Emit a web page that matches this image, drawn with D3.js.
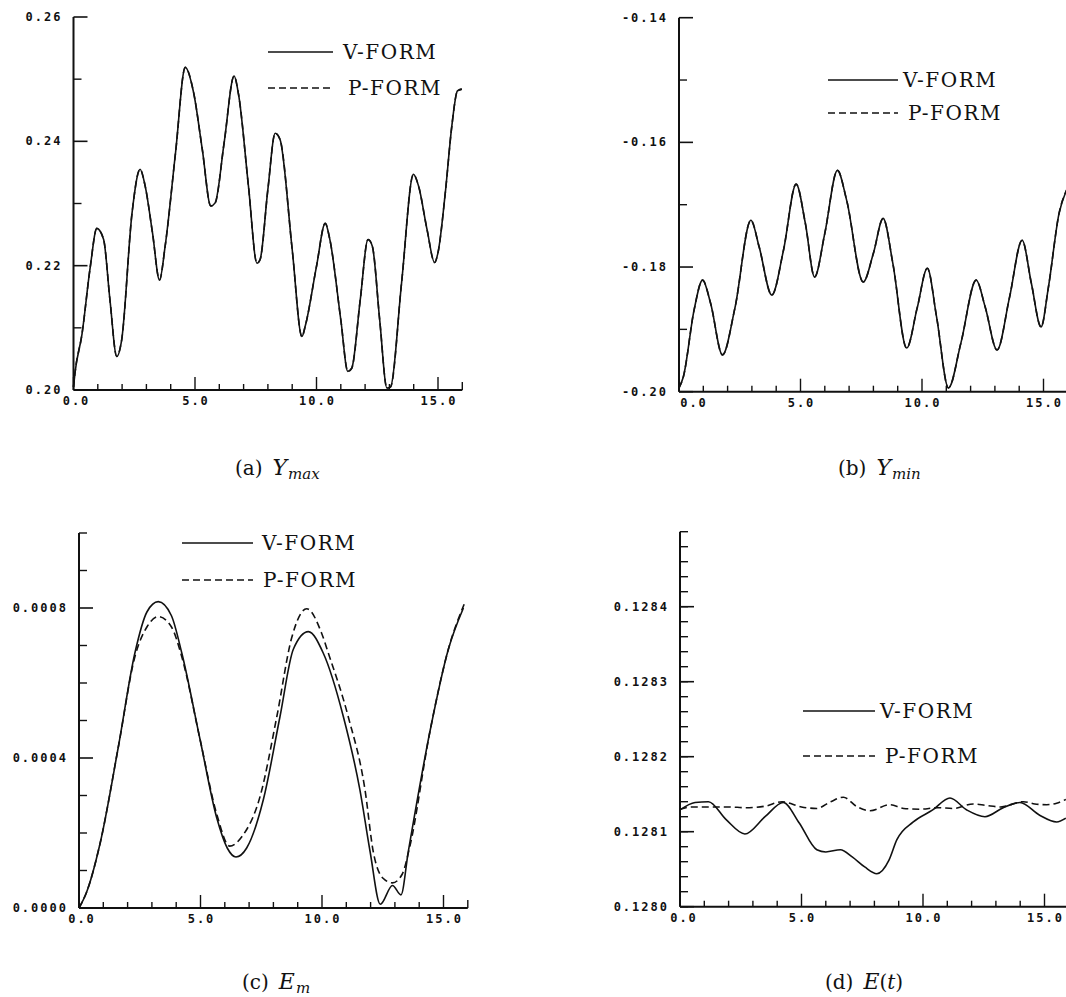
<!DOCTYPE html>
<html>
<head>
<meta charset="utf-8">
<script src="https://cdn.jsdelivr.net/npm/d3@7"></script>
<style>
  body { margin: 0; background: #fff; }
  .tick-label { font-family: "DejaVu Sans Mono", monospace; font-weight: bold; font-size: 12px; letter-spacing: 2px; fill: #111; }
  .legend-label { font-family: "DejaVu Serif"; font-size: 20px; letter-spacing: 1.5px; fill: #111; }
  .caption { font-family: "DejaVu Serif", serif; font-size: 20px; fill: #111; }
</style>
</head>
<body>
<div id="chart"></div>
<script>
// (a) Ymax - both forms lie on top of each other
const ymaxT = [0, 0.06, 0.35, 0.69, 0.96, 1.24, 1.5, 1.78, 1.98, 2.41, 2.74, 2.95, 3.25, 3.54, 3.77, 4.2, 4.6, 4.94,
  5.3, 5.65, 5.83, 6.2, 6.61, 6.79, 7.2, 7.55, 7.68, 8.0, 8.3, 8.5, 9.0, 9.4, 9.55, 10.0, 10.36, 10.55, 11.0, 11.29,
  11.45, 11.8, 12.12, 12.3, 12.6, 12.9, 13.05, 13.5, 13.99, 14.2, 14.55, 14.86, 15.0, 15.3, 15.57, 15.8, 15.98];
const ymaxV = [0.2005, 0.2027, 0.209, 0.2198, 0.226, 0.2242, 0.2145, 0.2054, 0.208, 0.2285, 0.2355, 0.2328, 0.2253,
  0.2177, 0.2231, 0.2382, 0.2519, 0.2479, 0.2387, 0.2296, 0.2301, 0.2398, 0.2505, 0.2476, 0.2328, 0.2204, 0.221,
  0.2323, 0.2413, 0.2403, 0.2226, 0.2086, 0.2105, 0.2199, 0.2268, 0.2242, 0.2113, 0.203, 0.2035, 0.2145, 0.2242,
  0.2231, 0.2113, 0.2003, 0.2005, 0.2172, 0.2347, 0.2328, 0.2258, 0.2205, 0.2221, 0.2317, 0.2425, 0.2481, 0.2484];
const ymaxP = ymaxV;

// (b) Ymin
const yminT = [0, 0.18, 0.62, 0.97, 1.3, 1.79, 2.3, 2.96, 3.3, 3.82, 4.3, 4.82, 5.2, 5.58, 6.0, 6.52, 6.9, 7.58, 8.0,
  8.4, 8.8, 9.37, 9.8, 10.22, 10.6, 11.09, 11.6, 12.23, 12.6, 13.09, 13.6, 14.12, 14.5, 14.9, 15.2, 15.64, 15.98];
const yminV = [-0.1994, -0.1976, -0.1869, -0.1821, -0.1858, -0.1941, -0.1866, -0.1725, -0.1768, -0.1845, -0.1773,
  -0.1667, -0.173, -0.1816, -0.1746, -0.1645, -0.1693, -0.1824, -0.1778, -0.1722, -0.1794, -0.193, -0.1866, -0.1802,
  -0.188, -0.1994, -0.1922, -0.1821, -0.1864, -0.1933, -0.1849, -0.1757, -0.1826, -0.1896, -0.1833, -0.1714, -0.1674];
const yminP = yminV;

// (c) Em
const emTV = [0, 0.3, 0.86, 1.62, 2.3, 2.8, 3.26, 3.8, 4.23, 4.98, 5.67, 6.1, 6.46, 6.9, 7.59, 8.27, 8.82, 9.44,
  10.05, 10.88, 11.56, 11.98, 12.4, 12.9, 13.25, 13.55, 14.44, 15.2, 15.82];
const emV = [0, 0.00004, 0.00017, 0.00043, 0.00068, 0.00079, 0.000817, 0.00078, 0.00068, 0.00045, 0.00024, 0.00016,
  0.000136, 0.00016, 0.00029, 0.00051, 0.00069, 0.000737, 0.00068, 0.00051, 0.000315, 0.00015, 0.00001, 0.00006,
  0.000035, 0.00015, 0.00047, 0.00069, 0.0008];
const emTP = [0, 0.3, 0.86, 1.62, 2.3, 2.8, 3.26, 3.8, 4.23, 4.98, 5.67, 6.2, 6.7, 7.45, 8.14, 8.75, 9.37, 10.0,
  10.26, 11.08, 11.77, 12.11, 12.5, 12.9, 13.3, 13.6, 14.44, 15.2, 15.85];
const emP = [0, 0.00004, 0.00017, 0.00043, 0.00067, 0.00075, 0.000777, 0.00075, 0.00067, 0.00045, 0.00025, 0.000165,
  0.00019, 0.000297, 0.00051, 0.00072, 0.000798, 0.00073, 0.00068, 0.00051, 0.000315, 0.00015, 0.00008, 0.000067,
  0.00009, 0.00016, 0.00047, 0.00069, 0.00081];

// (d) E(t)
const etTV = [0, 0.62, 1.17, 1.9, 2.67, 3.5, 4.25, 4.9, 5.63, 6.0, 6.6, 7.1, 7.6, 8.1, 8.6, 8.92, 9.6, 10.4, 11.11,
  11.8, 12.55, 13.3, 13.99, 14.8, 15.5, 15.88];
const etV = [0.128129, 0.128139, 0.12814, 0.128116, 0.128097, 0.12812, 0.128139, 0.128112, 0.128076, 0.128073,
  0.128076, 0.128066, 0.128053, 0.128044, 0.128062, 0.128089, 0.128113, 0.128129, 0.128145, 0.128129, 0.12812,
  0.128132, 0.128139, 0.128122, 0.128113, 0.128118];
const etTP = [0, 0.5, 1.2, 2.0, 2.7, 3.5, 4.2, 5.0, 5.63, 6.2, 6.72, 7.3, 7.82, 8.64, 9.2, 9.88, 10.6, 11.25, 12.07,
  12.6, 13.2, 14.13, 14.6, 15.09, 15.5, 15.88];
const etP = [0.12813, 0.128133, 0.128133, 0.128133, 0.128132, 0.128134, 0.12814, 0.128133, 0.128131, 0.12814,
  0.128146, 0.128133, 0.128128, 0.128136, 0.128131, 0.12813, 0.128132, 0.128131, 0.128137, 0.128135, 0.128133,
  0.12814, 0.128137, 0.128136, 0.128138, 0.128143];

// axis ticks
const xMajor = [0, 5, 10, 15];
const xLabels = ["0.0", "5.0", "10.0", "15.0"];
const yMajorA = [0.20, 0.22, 0.24, 0.26], yMinorA = [0.21, 0.23, 0.25];
const yMajorB = [-0.20, -0.18, -0.16, -0.14], yMinorB = [-0.19, -0.17, -0.15];
const yMajorC = [0, 0.0004, 0.0008], yMinorC = [0.0001, 0.0002, 0.0003, 0.0005, 0.0006, 0.0007, 0.0009, 0.001];
const yMajorD = [0.1280, 0.1281, 0.1282, 0.1283, 0.1284];
const yMinorD = d3.range(0, 26).map(i => +(0.128 + i * 0.00002).toFixed(5));

const width = 1066, height = 997;
const unit = 24.3;

const svg = d3.select("#chart").append("svg")
    .attr("width", width)
    .attr("height", height)
    .style("background", "#fff");

const panels = [
    { x0: 73.5, y0: 390, y1: 17, dom: [0.20, 0.26], major: yMajorA, minor: yMinorA, fmt: 2,
      v: [ymaxT, ymaxV], p: [ymaxT, ymaxP], zeroDx: 2,
      leg: { x1: 268, x2: 333, ya: 52, yb: 88, ta: 343, tb: 348 },
      cap: { x: 235, y: 475, main: "Y", sub: "max" } },
    { x0: 679, y0: 391.7, y1: 17.7, dom: [-0.20, -0.14], major: yMajorB, minor: yMinorB, fmt: 2,
      v: [yminT, yminV], p: [yminT, yminP], zeroDx: 14,
      leg: { x1: 828, x2: 898, ya: 80, yb: 113, ta: 903, tb: 908 },
      cap: { x: 838, y: 475, main: "Y", sub: "min" } },
    { x0: 79, y0: 908, y1: 533, dom: [0, 0.001], major: yMajorC, minor: yMinorC, fmt: 4,
      v: [emTV, emV], p: [emTP, emP], zeroDx: 2,
      leg: { x1: 182, x2: 253, ya: 543, yb: 580, ta: 262, tb: 263 },
      cap: { x: 242, y: 989, main: "E", sub: "m" } },
    { x0: 680, y0: 906.7, y1: 531.7, dom: [0.1280, 0.1285], major: yMajorD, minor: yMinorD, fmt: 4,
      v: [etTV, etV], p: [etTP, etP], zeroDx: 3,
      leg: { x1: 803, x2: 875, ya: 711, yb: 756, ta: 880, tb: 885 },
      cap: { x: 825, y: 989, main: "E", sub: null } }
];

panels.forEach(function (pn, k) {
    const g = svg.append("g");
    const x = d3.scaleLinear().domain([0, 16]).range([pn.x0, pn.x0 + 16 * unit]);
    const y = d3.scaleLinear().domain(pn.dom).range([pn.y0, pn.y1]);

    // axis lines
    g.append("line")
        .attr("x1", x(0)).attr("x2", x(0))
        .attr("y1", y(pn.dom[0])).attr("y2", y(pn.dom[1]))
        .attr("stroke", "#111").attr("stroke-width", 2);
    g.append("line")
        .attr("x1", x(0)).attr("x2", x(16))
        .attr("y1", y(pn.dom[0])).attr("y2", y(pn.dom[0]))
        .attr("stroke", "#111").attr("stroke-width", 2);

    // x ticks, pointing up into the plot
    g.selectAll(".xt").data(d3.range(0, 17)).join("line")
        .attr("x1", d => x(d)).attr("x2", d => x(d))
        .attr("y1", pn.y0)
        .attr("y2", d => pn.y0 - (d % 5 === 0 ? 13 : (d === 16 ? 8 : 6)))
        .attr("stroke", "#111").attr("stroke-width", 1.4);

    g.selectAll(".xl").data(xMajor).join("text")
        .attr("class", "tick-label")
        .attr("x", (d, i) => x(d) + 1 + (i === 0 ? pn.zeroDx : 0))
        .attr("y", pn.y0 + 15)
        .attr("text-anchor", "middle")
        .text((d, i) => xLabels[i]);

    // y ticks, pointing right
    g.selectAll(".ymin").data(pn.minor).join("line")
        .attr("x1", pn.x0).attr("x2", pn.x0 + 8)
        .attr("y1", d => y(d)).attr("y2", d => y(d))
        .attr("stroke", "#111").attr("stroke-width", 1.4);
    g.selectAll(".ymaj").data(pn.major).join("line")
        .attr("x1", pn.x0).attr("x2", pn.x0 + 14)
        .attr("y1", d => y(d)).attr("y2", d => y(d))
        .attr("stroke", "#111").attr("stroke-width", 1.6);

    g.selectAll(".yl").data(pn.major).join("text")
        .attr("class", "tick-label")
        .attr("x", pn.x0 - 11)
        .attr("y", d => y(d) + 4)
        .attr("text-anchor", "end")
        .text(d => d.toFixed(pn.fmt));

    // curves
    const line = d3.line()
        .x(d => x(d[0]))
        .y(d => y(d[1]))
        .curve(d3.curveMonotoneX);

    g.append("path")
        .datum(d3.zip(pn.p[0], pn.p[1]))
        .attr("d", line)
        .attr("fill", "none")
        .attr("stroke", "#111")
        .attr("stroke-width", 1.6)
        .attr("stroke-dasharray", "7,4");
    g.append("path")
        .datum(d3.zip(pn.v[0], pn.v[1]))
        .attr("d", line)
        .attr("fill", "none")
        .attr("stroke", "#111")
        .attr("stroke-width", 1.6);

    // legend
    const L = pn.leg;
    g.append("line")
        .attr("x1", L.x1).attr("x2", L.x2).attr("y1", L.ya).attr("y2", L.ya)
        .attr("stroke", "#111").attr("stroke-width", 1.6);
    g.append("line")
        .attr("x1", L.x1).attr("x2", L.x2).attr("y1", L.yb).attr("y2", L.yb)
        .attr("stroke", "#111").attr("stroke-width", 1.6)
        .attr("stroke-dasharray", "7,4");
    g.append("text").attr("class", "legend-label")
        .attr("x", L.ta).attr("y", L.ya + 7).text("V-FORM");
    g.append("text").attr("class", "legend-label")
        .attr("x", L.tb).attr("y", L.yb + 7).text("P-FORM");

    // caption
    const C = pn.cap;
    const letter = ["(a)", "(b)", "(c)", "(d)"][k];
    const cap = g.append("text").attr("class", "caption")
        .attr("x", C.x).attr("y", C.y);
    cap.append("tspan").text(letter);
    cap.append("tspan").attr("dx", 10)
        .style("font-style", "italic").style("font-size", "22px").text(C.main);
    if (C.sub) {
        cap.append("tspan").attr("dy", 4).attr("dx", 1)
            .style("font-style", "italic").style("font-size", "15px").text(C.sub);
    } else {
        cap.append("tspan").text("(");
        cap.append("tspan").style("font-style", "italic").text("t");
        cap.append("tspan").text(")");
    }
});
</script>
</body>
</html>
